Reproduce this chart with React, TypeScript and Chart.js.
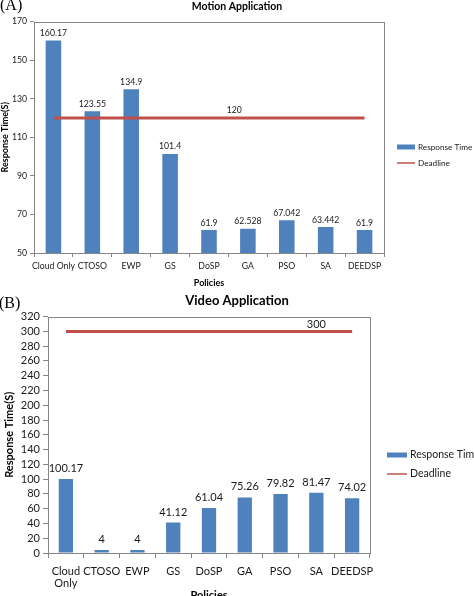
import React, { useEffect, useRef } from "react";
import { Chart, registerables } from "chart.js";

Chart.register(...registerables);

// ---- data ----
const motionPolicies = ["Cloud Only", "CTOSO", "EWP", "GS", "DoSP", "GA", "PSO", "SA", "DEEDSP"];
const videoPolicies: (string | string[])[] = [["Cloud", "Only"], "CTOSO", "EWP", "GS", "DoSP", "GA", "PSO", "SA", "DEEDSP"];

const motionResponse = [160.17, 123.55, 134.9, 101.4, 61.9, 62.528, 67.042, 63.442, 61.9];
const motionDeadline = 120;
const motionTicks = [50, 70, 90, 110, 130, 150, 170];

const videoResponse = [100.17, 4, 4, 41.12, 61.04, 75.26, 79.82, 81.47, 74.02];
const videoDeadline = 300;
const videoTicks = [0, 20, 40, 60, 80, 100, 120, 140, 160, 180, 200, 220, 240, 260, 280, 300, 320];

const seriesNames = ["Response Time", "Deadline"];

const BLUE = "#4F81BD";
const RED = "#C0504D";
const GRAY = "#868686";
const TEXT = "#1a1a1a";
const FONT = "Lato, 'Open Sans', sans-serif";

interface PanelProps {
  title: string;
  labels: (string | string[])[];
  values: number[];
  deadline: number;
  ticks: number[];
  height: number;
  fontSize: number;
  legendSize: number;
  titleSize: number;
  axisTitleSize: number;
  yAxisWidth: number;
  yTitlePad: number;
  xAxisHeight: number;
  xTickPad: number;
  xTitlePad: number;
  rightSpace: number;
  titlePadTop: number;
  titlePadBottom: number;
  tickLength: number;
  deadlineLabelAt: number;
  valueGap: number;
  deadlineGap: number;
  legendX: number;
  legendY: number[];
  sampleW: number;
}

const Panel: React.FC<PanelProps> = (p) => {
  const canvasRef = useRef<HTMLCanvasElement | null>(null);

  useEffect(() => {
    if (!canvasRef.current) return;
    const ctx = canvasRef.current.getContext("2d");
    if (!ctx) return;

    // plot frame, value labels, deadline label and side legend
    const extras = {
      id: "extras",
      afterDatasetsDraw(chart: any) {
        const c = chart.ctx;
        const area = chart.chartArea;
        c.save();
        c.strokeStyle = GRAY;
        c.lineWidth = 1;
        c.strokeRect(Math.round(area.left) + 0.5, Math.round(area.top) + 0.5,
          Math.round(area.right - area.left), Math.round(area.bottom - area.top));

        c.fillStyle = TEXT;
        c.font = `${p.fontSize}px ${FONT}`;
        c.textAlign = "center";
        c.textBaseline = "bottom";
        const bars = chart.getDatasetMeta(1).data;
        bars.forEach((bar: any, i: number) => {
          c.fillText(String(p.values[i]), bar.x, bar.y - p.valueGap);
        });

        const xs = chart.scales.x;
        const ys = chart.scales.y;
        c.fillText(String(p.deadline), xs.getPixelForValue(p.deadlineLabelAt),
          ys.getPixelForValue(p.deadline) - p.deadlineGap);

        // legend
        const lx = area.right + p.legendX;
        c.font = `${p.legendSize}px ${FONT}`;
        c.textAlign = "left";
        c.textBaseline = "middle";
        c.fillStyle = BLUE;
        c.fillRect(lx, p.legendY[0] - 2.5, p.sampleW, 5);
        c.fillStyle = TEXT;
        c.fillText(seriesNames[0], lx + p.sampleW + 3, p.legendY[0]);
        c.strokeStyle = RED;
        c.lineWidth = 1.5;
        c.beginPath();
        c.moveTo(lx, p.legendY[1]);
        c.lineTo(lx + p.sampleW, p.legendY[1]);
        c.stroke();
        c.fillText(seriesNames[1], lx + p.sampleW + 3, p.legendY[1]);
        c.restore();
      },
    };

    const chart = new Chart(ctx, {
      type: "bar",
      data: {
        labels: p.labels,
        datasets: [
          {
            type: "line",
            label: seriesNames[1],
            data: p.labels.map(() => p.deadline),
            borderColor: RED,
            backgroundColor: RED,
            borderWidth: 3,
            pointRadius: 0,
            order: 0,
          } as any,
          {
            type: "bar",
            label: seriesNames[0],
            data: p.values,
            backgroundColor: BLUE,
            borderWidth: 0,
            categoryPercentage: 1,
            barPercentage: 0.4,
            order: 1,
          },
        ],
      },
      options: {
        animation: false,
        responsive: false,
        layout: { padding: 0 },
        plugins: {
          legend: { display: false },
          tooltip: { enabled: false },
          title: {
            display: true,
            text: p.title,
            color: "#000",
            font: { family: FONT, size: p.titleSize, weight: "bold" },
            padding: { top: p.titlePadTop, bottom: p.titlePadBottom },
          },
        },
        scales: {
          x: {
            grid: { display: true, drawOnChartArea: false, drawTicks: true, tickLength: p.tickLength, color: GRAY, offset: true },
            border: { display: false },
            ticks: {
              color: TEXT,
              font: { family: FONT, size: p.fontSize, lineHeight: 1.1 },
              padding: p.xTickPad,
              maxRotation: 0,
              minRotation: 0,
              autoSkip: false,
            },
            title: {
              display: true,
              text: "Policies",
              color: "#000",
              font: { family: FONT, size: p.axisTitleSize, weight: "bold" },
              padding: { top: 0, bottom: p.xTitlePad },
            },
            afterFit: (s: any) => { s.height = p.xAxisHeight; },
          },
          y: {
            min: p.ticks[0],
            max: p.ticks[p.ticks.length - 1],
            afterBuildTicks: (s: any) => { s.ticks = p.ticks.map((v) => ({ value: v })); },
            grid: { display: true, drawOnChartArea: false, drawTicks: true, tickLength: p.tickLength, color: GRAY },
            border: { display: false },
            ticks: {
              color: TEXT,
              font: { family: FONT, size: p.fontSize },
              padding: 3,
              autoSkip: false,
            },
            title: {
              display: true,
              text: "Response Time(S)",
              color: "#000",
              font: { family: FONT, size: p.axisTitleSize, weight: "bold" },
              padding: { top: p.yTitlePad, bottom: 0 },
            },
            afterFit: (s: any) => { s.width = p.yAxisWidth; },
          },
          // empty right-hand band that holds the legend, so the title stays centred on the page
          side: {
            type: "linear",
            position: "right",
            display: true,
            grid: { display: false },
            border: { display: false },
            ticks: { display: false },
            afterFit: (s: any) => { s.width = p.rightSpace; },
          },
        },
      },
      plugins: [extras],
    });

    return () => {
      chart.destroy();
    };
  }, []);

  return <canvas ref={canvasRef} width={474} height={p.height} style={{ display: "block" }} />;
};

const tag: React.CSSProperties = {
  position: "absolute",
  left: 0,
  fontFamily: "'Liberation Serif', serif",
  fontSize: 16,
  lineHeight: 1,
  color: "#000",
};

export default function App() {
  return (
    <div style={{ position: "fixed", left: 0, top: 0, width: 474, height: 596, overflow: "hidden", background: "#fff" }}>
      <div style={{ position: "absolute", left: 0, top: 0 }}>
        <Panel
          title="Motion Application"
          labels={motionPolicies}
          values={motionResponse}
          deadline={motionDeadline}
          ticks={motionTicks}
          height={292}
          fontSize={8.7}
          legendSize={8.2}
          titleSize={10.5}
          axisTitleSize={9}
          yAxisWidth={34}
          yTitlePad={0}
          xAxisHeight={39}
          xTickPad={4.5}
          xTitlePad={3.6}
          rightSpace={90}
          titlePadTop={0}
          titlePadBottom={9}
          tickLength={4}
          deadlineLabelAt={4.65}
          valueGap={3}
          deadlineGap={3}
          legendX={13}
          legendY={[147, 163]}
          sampleW={18}
        />
      </div>
      <div style={{ position: "absolute", left: 0, top: 292 }}>
        <Panel
          title="Video Application"
          labels={videoPolicies}
          values={videoResponse}
          deadline={videoDeadline}
          ticks={videoTicks}
          height={312}
          fontSize={11}
          legendSize={10.5}
          titleSize={13}
          axisTitleSize={11}
          yAxisWidth={48}
          yTitlePad={3}
          xAxisHeight={51}
          xTickPad={7.4}
          xTitlePad={2.4}
          rightSpace={104}
          titlePadTop={1}
          titlePadBottom={8}
          tickLength={5}
          deadlineLabelAt={7}
          valueGap={5}
          deadlineGap={1}
          legendX={17}
          legendY={[163, 182]}
          sampleW={20}
        />
      </div>
      <span style={{ ...tag, top: -3 }}>(A)</span>
      <span style={{ ...tag, top: 295, left: -1 }}>(B)</span>
    </div>
  );
}
